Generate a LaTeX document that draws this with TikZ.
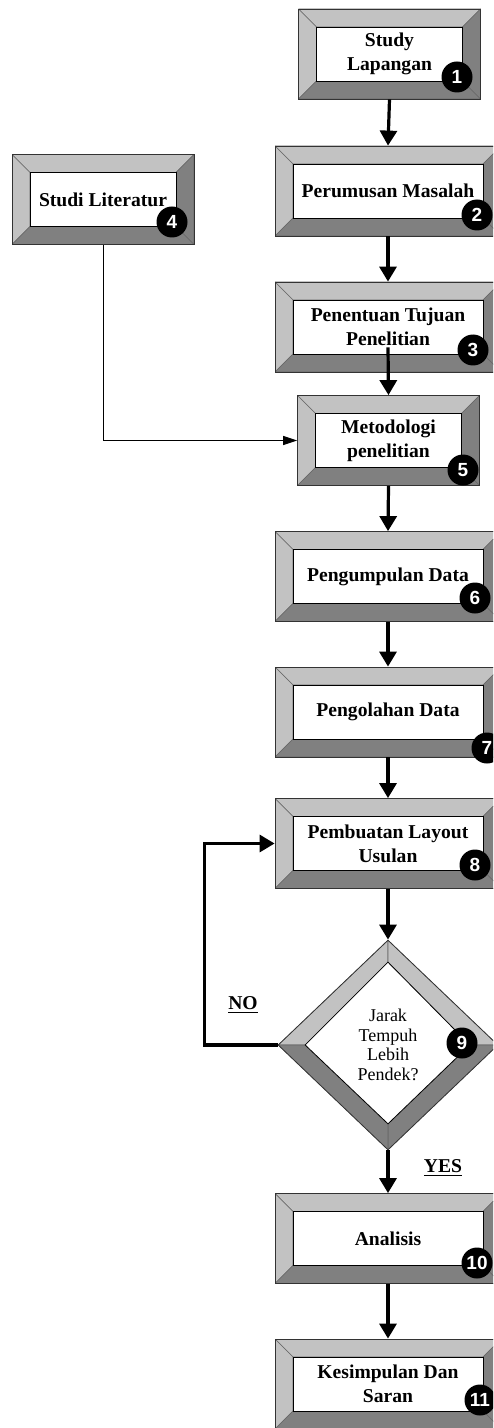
\documentclass[tikz,border=0pt]{standalone}
\usepackage{fontspec}
\setmainfont{Liberation Serif}
\newfontfamily\numfont{Liberation Sans}
\usetikzlibrary{shapes.geometric,arrows.meta}
\definecolor{bevlight}{gray}{0.76}
\definecolor{bevdark}{gray}{0.5}
\newcommand\bevw{9pt}
\begin{document}
\begin{tikzpicture}
  [x=0.5pt,y=-0.5pt
  ,face/.style={draw=black!60,line width=0.3pt}
  ,procbox/.style={rectangle,draw=black!80,line width=0.4pt,inner sep=0pt
    ,minimum width=113pt,minimum height=45pt,align=center
    ,font=\fontsize{9.8}{12}\selectfont\bfseries
    ,path picture={
      \path (path picture bounding box.north west) coordinate (pw)
            (path picture bounding box.south east) coordinate (pe)
            (pw -| pe) coordinate (pne)
            (pw |- pe) coordinate (psw);
      \filldraw[face,fill=bevlight] (pw) -- (pne) -- ([shift={(-\bevw,-\bevw)}]pne) -- ([shift={(\bevw,-\bevw)}]pw) -- cycle;
      \filldraw[face,fill=bevlight] (pw) -- ([shift={(\bevw,-\bevw)}]pw) -- ([shift={(\bevw,\bevw)}]psw) -- (psw) -- cycle;
      \filldraw[face,fill=bevdark] (pne) -- (pe) -- ([shift={(-\bevw,\bevw)}]pe) -- ([shift={(-\bevw,-\bevw)}]pne) -- cycle;
      \filldraw[face,fill=bevdark] (psw) -- (pe) -- ([shift={(-\bevw,\bevw)}]pe) -- ([shift={(\bevw,\bevw)}]psw) -- cycle;
      \filldraw[draw=black,line width=0.4pt,fill=white] ([shift={(\bevw,-\bevw)}]pw) rectangle ([shift={(-\bevw,\bevw)}]pe);
    }}
  ,narrow/.style={minimum width=91pt}
  ,decision/.style={diamond,draw=black!80,line width=0.4pt,inner sep=0pt
    ,minimum width=110pt,minimum height=105pt,align=center
    ,font=\fontsize{9}{9.75}\selectfont
    ,path picture={
      \path (path picture bounding box.north) coordinate (dn)
            (path picture bounding box.south) coordinate (ds)
            (path picture bounding box.west) coordinate (dw)
            (path picture bounding box.east) coordinate (de)
            ([yshift=-11pt]dn) coordinate (in)
            ([yshift=13pt]ds) coordinate (is)
            ([xshift=13.5pt]dw) coordinate (iw)
            ([xshift=-14pt]de) coordinate (ie);
      \filldraw[face,fill=bevlight] (dw) -- (dn) -- (in) -- (iw) -- cycle;
      \filldraw[face,fill=bevlight] (dn) -- (de) -- (ie) -- (in) -- cycle;
      \filldraw[face,fill=bevdark] (de) -- (ds) -- (is) -- (ie) -- cycle;
      \filldraw[face,fill=bevdark] (ds) -- (dw) -- (iw) -- (is) -- cycle;
      \filldraw[draw=black,line width=0.4pt,fill=white] (in) -- (ie) -- (is) -- (iw) -- cycle;
    }}
  ,num/.style={circle,fill=black,text=white,inner sep=0pt,minimum size=15.5pt
    ,font=\numfont\bfseries\fontsize{9.5}{10}\selectfont}
  ,flow/.style={line width=1.6pt,-{Triangle[length=7.5pt,width=8.5pt]}}
  ,thin flow/.style={line width=0.5pt,-{Triangle[length=7pt,width=4.5pt]}}
  ,answer/.style={font=\fontsize{9.8}{12}\selectfont\bfseries}]
\path[use as bounding box,clip] (0,0) rectangle (493,1428);
%
\node at (389.5,54)  (b1) [procbox,narrow] {Study\\Lapangan};
\node at (103,199.5) (b4) [procbox,narrow] {Studi Literatur};
\node at (388,191)   (b2) [procbox] {Perumusan Masalah};
\node at (388,327)   (b3) [procbox] {Penentuan Tujuan\\Penelitian};
\node at (388.5,440.5) (b5) [procbox,narrow] {Metodologi\\penelitian};
\node at (388,576.5) (b6) [procbox] {Pengumpulan Data};
\node at (388,712)   (b7) [procbox] {Pengolahan Data};
\node at (388,843.5) (b8) [procbox] {Pembuatan Layout\\Usulan};
\node at (388,1045)  (d9) [decision] {Jarak\\Tempuh\\Lebih\\Pendek?};
\node at (388,1238.5) (b10) [procbox] {Analisis};
\node at (388,1384)  (b11) [procbox] {Kesimpulan Dan\\Saran};
%
\node at (457,77)   (n1)  [num] {1};
\node at (477,215)  (n2)  [num] {2};
\node at (473,350)  (n3)  [num] {3};
\node at (172,222)  (n4)  [num] {4};
\node at (463,470)  (n5)  [num] {5};
\node at (475,598)  (n6)  [num] {6};
\node at (487,748)  (n7)  [num] {7};
\node at (475,865)  (n8)  [num] {8};
\node at (462,1043) (n9)  [num] {9};
\node at (477,1263) (n10) [num] {10};
\node at (480,1400) (n11) [num] {11};
%
\draw [flow] (b1.south) -- (b2.north);
\draw [flow] (b2.south) -- (b3.north);
\draw [flow] ([yshift=12.5pt]b3.south) -- (b5.north);
\draw [flow] (b5.south) -- (b6.north);
\draw [flow] (b6.south) -- (b7.north);
\draw [flow] (b7.south) -- (b8.north);
\draw [flow] (b8.south) -- (d9.north);
\draw [flow] (d9.south) -- (b10.north);
\draw [flow] (b10.south) -- (b11.north);
\draw [thin flow] (b4.south) |- (b5.west);
\draw [flow] (d9.west) -- ++(-73,0) |- (b8.west);
%
\node at (243,1005) (no)  [answer] {\underline{NO}};
\node at (443,1168) (yes) [answer] {\underline{YES}};
\end{tikzpicture}
\end{document}
